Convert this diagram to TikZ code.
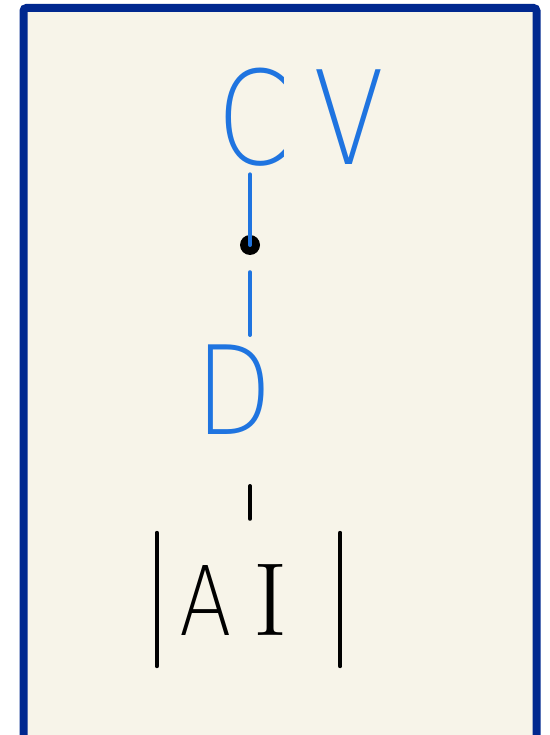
\documentclass[tikz,border=0pt]{standalone}
\usepackage{fontspec}
\usepackage{xcolor}
\newfontfamily\handfont{DejaVu Sans ExtraLight}[FakeStretch=0.8]
\definecolor{inkblue}{HTML}{1F74E0}
\definecolor{framebg}{HTML}{F7F4E9}
\definecolor{frameblue}{HTML}{00288F}

\begin{document}
\begin{tikzpicture}[x=1pt, y=-1pt,
    every node/.style={inner sep=0pt},
    word/.style={text=inkblue},
    stem/.style={draw=inkblue, line width=4pt, line cap=round},
    bar/.style={draw=black, line width=4pt, line cap=round}]
    \useasboundingbox (0,0) rectangle (549,735);
    \fill[white] (0,0) rectangle (549,735);
    \draw[frameblue, fill=framebg, line width=8pt, rounded corners=3pt] (23.5,8) rectangle (536.5,740);
    \node[word, font={\handfont\fontsize{130}{130}\selectfont}] (cv) at (301,117) {C\hspace{24pt}V};
    \node[circle, fill=black, minimum size=20pt] (dot) at (250,245) {};
    \node[word, font={\handfont\fontsize{123}{123}\selectfont}] (d) at (234,390) {D};
    \node[minimum height=133pt, text width=139pt, inner xsep=22pt, align=left,
        font={\handfont\fontsize{96}{96}\selectfont}] (ai) at (248.5,599.5) {A\hspace{22pt}{\rmfamily\fontsize{104}{104}\selectfont I}};
    \draw[stem, shorten >=8pt] (dot.center) -- (dot |- cv.south);
    \draw[stem, shorten <=17pt, shorten >=10pt] (dot.south) -- (dot |- d.north);
    \draw[bar, shorten <=51pt, shorten >=14pt] (d.south -| dot) -- (dot |- ai.north);
    \draw[bar] (ai.north west) -- (ai.south west);
    \draw[bar] (ai.north east) -- (ai.south east);
\end{tikzpicture}
\end{document}
